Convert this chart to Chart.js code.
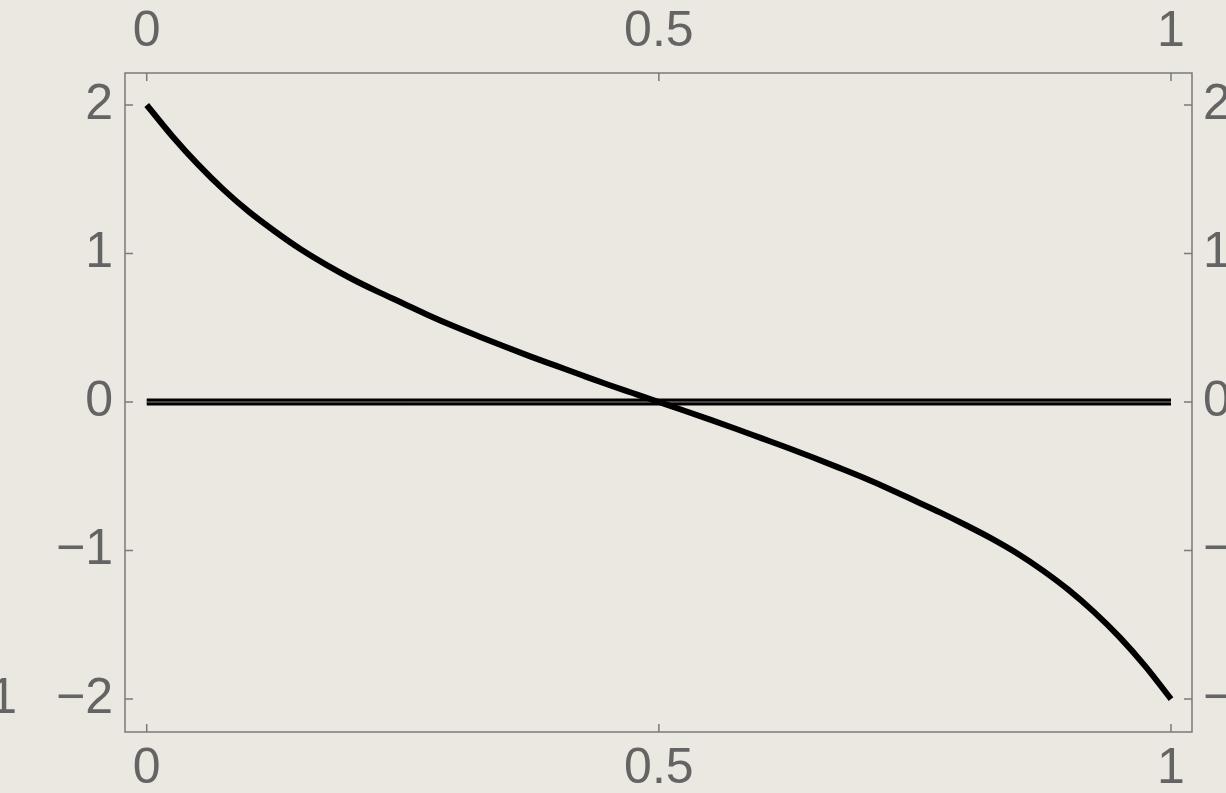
<!DOCTYPE html>
<html>
<head>
<meta charset="utf-8">
<script src="https://cdn.jsdelivr.net/npm/chart.js@4.4.0/dist/chart.umd.min.js"></script>
<style>
  html, body { margin: 0; padding: 0; overflow: hidden; background: #ebe8e2; }
  #wrap { width: 1226px; height: 793px; overflow: hidden; position: relative; }
  canvas { position: absolute; left: 0; top: 0; }
</style>
</head>
<body>
<div id="wrap"><canvas id="plot" width="1320" height="793"></canvas></div>
<script>
// curve, every 0.025
const xVals = [0, 0.025, 0.05, 0.075, 0.1, 0.125, 0.15, 0.175, 0.2, 0.225, 0.25, 0.275, 0.3, 0.325, 0.35,
               0.375, 0.4, 0.425, 0.45, 0.475, 0.5, 0.525, 0.55, 0.575, 0.6, 0.625, 0.65, 0.675, 0.7,
               0.725, 0.75, 0.775, 0.8, 0.825, 0.85, 0.875, 0.9, 0.925, 0.95, 0.975, 1]
const yVals = [2, 1.79, 1.6, 1.43, 1.28, 1.15, 1.03, 0.925, 0.83, 0.745, 0.665, 0.585, 0.51, 0.44, 0.372,
               0.306, 0.243, 0.18, 0.118, 0.059, 0, -0.059, -0.119, -0.18, -0.243, -0.306, -0.372, -0.44, -0.51,
               -0.585, -0.665, -0.745, -0.83, -0.92, -1.02, -1.135, -1.265, -1.415, -1.585, -1.78, -2]
// the flat line at zero
const zeroX = [0, 1]
const zeroY = [0, 0]

const xTicks = [0, 0.5, 1]
const yTicks = [-2, -1, 0, 1, 2]

const labelGrey = '#646464'
const frameGrey = '#7a7a7a'

function pts(xs, ys) {
    return xs.map((x, i) => ({ x: x, y: ys[i] }))
}
function fmt(v) {
    return v < 0 ? '\u2212' + String(-v) : String(v)
}
function setTicks(list) {
    return function (scale) { scale.ticks = list.map(v => ({ value: v })) }
}

// frame with inward tick marks, like the original
const framePlugin = {
    id: 'frame',
    beforeDatasetsDraw(chart) {
        const ctx = chart.ctx, a = chart.chartArea, s = chart.scales
        ctx.save()
        ctx.strokeStyle = frameGrey
        ctx.lineWidth = 1.5
        ctx.strokeRect(a.left, a.top, a.right - a.left, a.bottom - a.top)
        ctx.beginPath()
        xTicks.forEach(v => {
            const px = s.x.getPixelForValue(v)
            ctx.moveTo(px, a.bottom); ctx.lineTo(px, a.bottom - 8)
            ctx.moveTo(px, a.top); ctx.lineTo(px, a.top + 8)
        })
        yTicks.forEach(v => {
            const py = s.y.getPixelForValue(v)
            ctx.moveTo(a.left, py); ctx.lineTo(a.left + 8, py)
            ctx.moveTo(a.right, py); ctx.lineTo(a.right - 8, py)
        })
        ctx.stroke()
        ctx.restore()
    },
    afterDraw(chart) {
        // stray label from the neighbouring panel, cut by the left edge
        const ctx = chart.ctx
        ctx.save()
        ctx.fillStyle = labelGrey
        ctx.font = '50px "Liberation Sans", Arial, sans-serif'
        ctx.textAlign = 'right'
        ctx.textBaseline = 'middle'
        ctx.fillText('1', 17, chart.scales.y.getPixelForValue(-2))
        ctx.restore()
    }
}

const font = { family: '"Liberation Sans", Arial, sans-serif', size: 50 }
const xRange = { min: -0.0212, max: 1.0205 }
const yRange = { min: -2.222, max: 2.2155 }
const noGrid = { display: false, drawTicks: false }

const ctxPlot = document.getElementById('plot').getContext('2d')
const chartPlot = new Chart(ctxPlot, {
    type: 'scatter',
    data: {
        datasets: [
            { data: pts(xVals, yVals), showLine: true, borderColor: '#000', borderWidth: 6, order: 1,
              pointRadius: 0, cubicInterpolationMode: 'monotone', borderCapStyle: 'butt' },
            { data: pts(zeroX, zeroY), showLine: true, borderColor: '#8a8a8a', borderWidth: 1, order: 2,
              pointRadius: 0, borderCapStyle: 'butt' },
            { data: pts(zeroX, zeroY), showLine: true, borderColor: '#000', borderWidth: 7, order: 3,
              pointRadius: 0, borderCapStyle: 'butt' }
        ]
    },
    options: {
        responsive: false,
        animation: false,
        layout: { padding: 0 },
        plugins: { legend: { display: false }, tooltip: { enabled: false } },
        scales: {
            x: {
                type: 'linear', position: 'bottom', ...xRange,
                grid: noGrid, border: { display: false },
                afterBuildTicks: setTicks(xTicks),
                afterFit(scale) { scale.height = 61 },
                ticks: { color: labelGrey, font: font, padding: 7, maxRotation: 0, callback: fmt }
            },
            x2: {
                type: 'linear', position: 'top', ...xRange,
                grid: noGrid, border: { display: false },
                afterBuildTicks: setTicks(xTicks),
                afterFit(scale) { scale.height = 73 },
                ticks: { color: labelGrey, font: font, padding: 11, maxRotation: 0, callback: fmt }
            },
            y: {
                type: 'linear', position: 'left', ...yRange,
                grid: noGrid, border: { display: false },
                afterBuildTicks: setTicks(yTicks),
                afterFit(scale) { scale.width = 125 },
                ticks: { color: labelGrey, font: font, padding: 12, callback: fmt }
            },
            y2: {
                type: 'linear', position: 'right', ...yRange,
                grid: noGrid, border: { display: false },
                afterBuildTicks: setTicks(yTicks),
                afterFit(scale) { scale.width = 128 },
                ticks: { color: labelGrey, font: font, padding: 11, callback: fmt }
            }
        }
    },
    plugins: [framePlugin]
})
</script>
</body>
</html>
